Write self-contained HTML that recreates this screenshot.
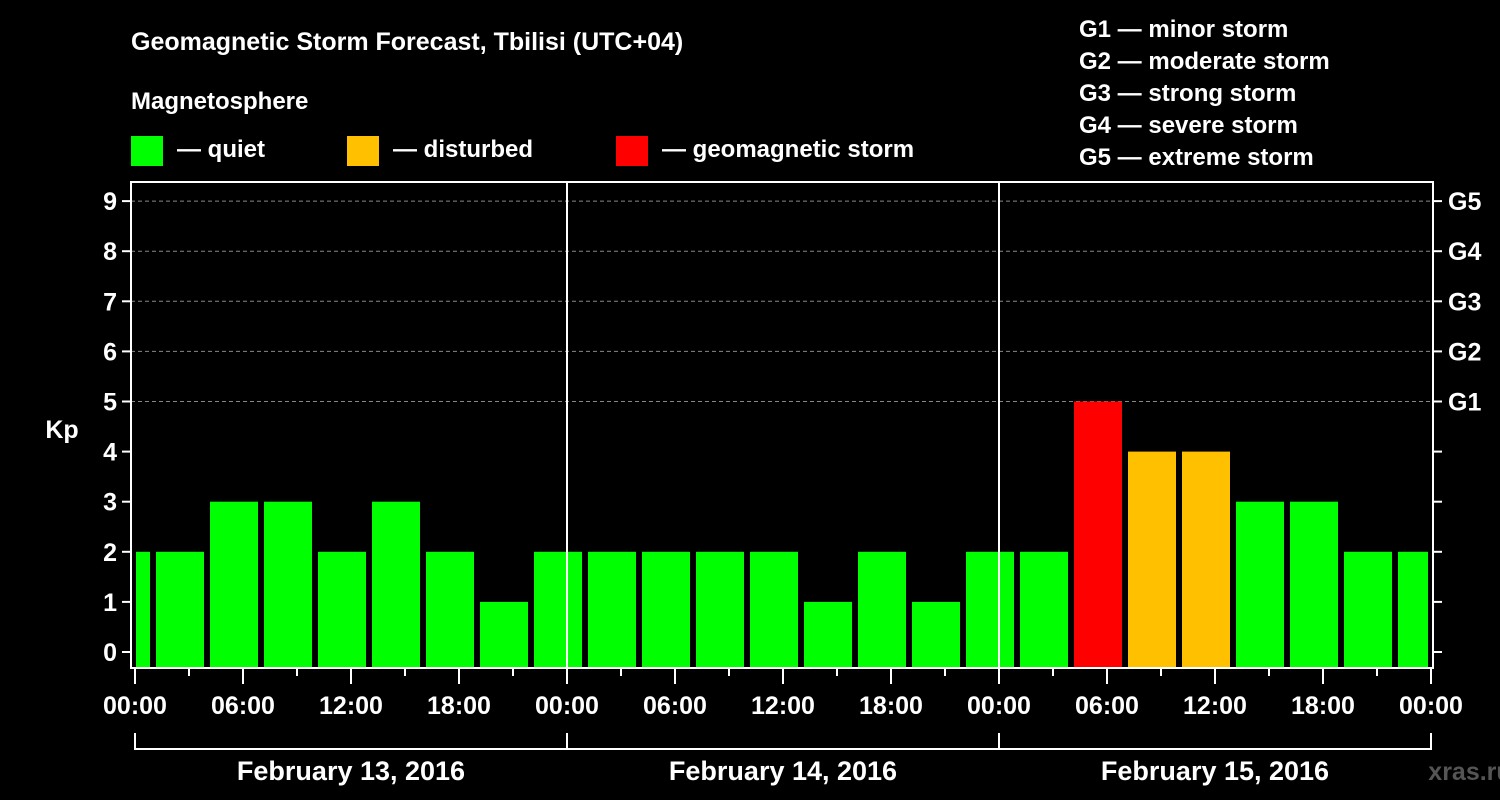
<!DOCTYPE html>
<html><head><meta charset="utf-8"><style>
html,body{margin:0;padding:0;background:#000;}
svg{display:block;font-family:"Liberation Sans",Arial,sans-serif;font-weight:bold;}
</style></head><body>
<svg width="1500" height="800" viewBox="0 0 1500 800" xmlns="http://www.w3.org/2000/svg">
<rect x="0" y="0" width="1500" height="800" fill="#000"/>
<text x="131" y="50" fill="#fff" font-size="25">Geomagnetic Storm Forecast, Tbilisi (UTC+04)</text>
<text x="131" y="109" fill="#fff" font-size="24">Magnetosphere</text>
<g><rect x="131" y="136" width="32" height="30" fill="#00ff00"/><text x="177" y="157" fill="#fff" font-size="24">— quiet</text></g>
<g><rect x="347" y="136" width="32" height="30" fill="#ffc000"/><text x="393" y="157" fill="#fff" font-size="24">— disturbed</text></g>
<g><rect x="616" y="136" width="32" height="30" fill="#ff0000"/><text x="662" y="157" fill="#fff" font-size="24">— geomagnetic storm</text></g>
<g fill="#fff" font-size="24">
<text x="1079" y="37">G1 — minor storm</text>
<text x="1079" y="69">G2 — moderate storm</text>
<text x="1079" y="101">G3 — strong storm</text>
<text x="1079" y="133">G4 — severe storm</text>
<text x="1079" y="165">G5 — extreme storm</text>
</g>
<text x="62" y="438" fill="#fff" font-size="25" text-anchor="middle">Kp</text>
<text x="1470" y="780" fill="#555" font-size="25" text-anchor="middle">xras.ru</text>
<g id="plot"></g>
</svg>
<script>
const startHours = [-2,1,4,7,10,13,16,19,22,25,28,31,34,37,40,43,46,49,52,55,58,61,64,67,70];
const kpValues = [2,2,3,3,2,3,2,1,2,2,2,2,2,1,2,1,2,2,5,4,4,3,3,2,2];
const yTicks = [0,1,2,3,4,5,6,7,8,9];
const gLabels = ["","","","","","G1","G2","G3","G4","G5"];
const xTickLabels = ["00:00","06:00","12:00","18:00","00:00","06:00","12:00","18:00","00:00","06:00","12:00","18:00","00:00"];
const dateLabels = ["February 13, 2016","February 14, 2016","February 15, 2016"];

const NS="http://www.w3.org/2000/svg";
const g=document.getElementById('plot');
const L=131,R=1433,T=182,B=668;
const X0=135, PXH=18;
const x=h=>X0+h*PXH;
const y=v=>652-v*50.1;
function mk(tag,attrs){const e=document.createElementNS(NS,tag);for(const k in attrs)e.setAttribute(k,attrs[k]);g.appendChild(e);return e;}

// gridlines
yTicks.forEach(v=>{
  if(v>=5){
    const l=mk('line',{x1:L,x2:R,y1:y(v),y2:y(v),stroke:'#888','stroke-width':1,'stroke-dasharray':'4,3'});
    
    
  }
});
// bars
startHours.forEach((h,i)=>{
  const v=kpValues[i];
  let x1=Math.max(x(h)+3,L+5), x2=Math.min(x(h+3)-3,R-5);
  const col=v>=5?'#ff0000':(v>=4?'#ffc000':'#00ff00');
  const r=mk('rect',{x:x1,y:y(v),width:x2-x1,height:B-1-y(v),fill:col});
  
  
});
// day separators
[1,2].forEach(d=>{
  const l=mk('line',{x1:x(24*d),x2:x(24*d),y1:T,y2:B,stroke:'#fff','stroke-width':2});
  
  
});
// frame
const fr=mk('rect',{x:L,y:T,width:R-L,height:B-T,fill:'none',stroke:'#fff','stroke-width':2});


// y ticks
yTicks.forEach((v,i)=>{
  mk('line',{x1:L-9,x2:L,y1:y(v),y2:y(v),stroke:'#fff','stroke-width':2});
  mk('line',{x1:R,x2:R+9,y1:y(v),y2:y(v),stroke:'#fff','stroke-width':2});
  const t=mk('text',{x:L-14,y:y(v)+9,fill:'#fff','font-size':25,'text-anchor':'end'});
  t.textContent=v;
  
  
  if(gLabels[i]){
    const t2=mk('text',{x:R+15,y:y(v)+9,fill:'#fff','font-size':25});
    t2.textContent=gLabels[i];
    
    
  }
});
// x ticks
for(let h=0;h<=72;h+=3){
  const major=h%6===0;
  mk('line',{x1:x(h),x2:x(h),y1:B,y2:B+(major?16:8),stroke:'#fff','stroke-width':2});
}
xTickLabels.forEach((s,i)=>{
  const t=mk('text',{x:x(i*6),y:714,fill:'#fff','font-size':25,'text-anchor':'middle'});
  t.textContent=s;
  
  
});
// date bracket
mk('line',{x1:x(0),x2:x(72),y1:749,y2:749,stroke:'#fff','stroke-width':2});
for(let d=0;d<=3;d++) mk('line',{x1:x(24*d),x2:x(24*d),y1:733,y2:750,stroke:'#fff','stroke-width':2});
dateLabels.forEach((s,i)=>{
  const t=mk('text',{x:x(24*i+12),y:780,fill:'#fff','font-size':27,'text-anchor':'middle'});
  t.textContent=s;
  
  
});
</script>
</body></html>
